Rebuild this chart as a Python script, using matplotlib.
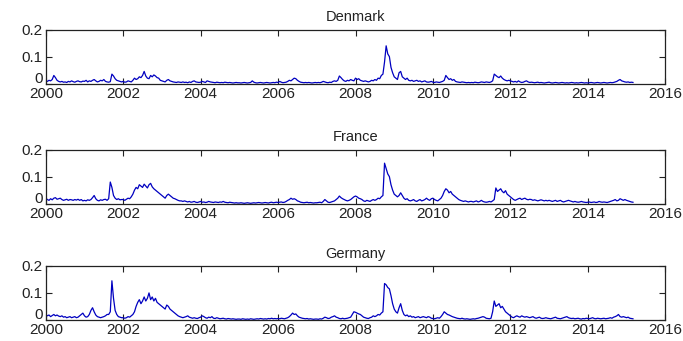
import numpy as np
import matplotlib
matplotlib.use("Agg")
import matplotlib.pyplot as plt
from matplotlib.transforms import ScaledTranslation

plt.rcParams['font.family'] = ['Liberation Sans', 'DejaVu Sans']

# semi-monthly observations, Jan 2000 .. early 2015
denmark = [
    # 2000
    0.010, 0.008, 0.012, 0.010, 0.015, 0.030, 0.022, 0.012, 0.008, 0.006, 0.008, 0.005,
    0.006, 0.004, 0.008, 0.006, 0.010, 0.007, 0.005, 0.008, 0.010, 0.007, 0.006, 0.009,
    # 2001
    0.008, 0.012, 0.006, 0.010, 0.008, 0.012, 0.015, 0.010, 0.006, 0.008, 0.012, 0.010,
    0.015, 0.008, 0.006, 0.005, 0.007, 0.035, 0.028, 0.018, 0.012, 0.010, 0.008, 0.006,
    # 2002
    0.008, 0.005, 0.006, 0.010, 0.008, 0.006, 0.012, 0.020, 0.015, 0.018, 0.025, 0.022,
    0.030, 0.045, 0.028, 0.020, 0.018, 0.030, 0.025, 0.032, 0.028, 0.022, 0.020, 0.012,
    # 2003
    0.010, 0.008, 0.006, 0.012, 0.015, 0.010, 0.008, 0.006, 0.005, 0.004, 0.006, 0.005,
    0.004, 0.006, 0.004, 0.005, 0.003, 0.006, 0.004, 0.008, 0.010, 0.006, 0.005, 0.004,
    # 2004
    0.005, 0.008, 0.006, 0.004, 0.010, 0.008, 0.006, 0.005, 0.004, 0.003, 0.005, 0.004,
    0.003, 0.004, 0.003, 0.005, 0.004, 0.003, 0.004, 0.003, 0.002, 0.003, 0.004, 0.003,
    # 2005
    0.003, 0.002, 0.003, 0.004, 0.003, 0.002, 0.003, 0.004, 0.010, 0.005, 0.003, 0.002,
    0.003, 0.004, 0.003, 0.002, 0.003, 0.004, 0.003, 0.002, 0.003, 0.004, 0.003, 0.005,
    # 2006
    0.004, 0.008, 0.005, 0.003, 0.004, 0.005, 0.008, 0.012, 0.010, 0.015, 0.020, 0.018,
    0.012, 0.008, 0.005, 0.004, 0.003, 0.004, 0.003, 0.004, 0.003, 0.002, 0.003, 0.004,
    # 2007
    0.003, 0.004, 0.003, 0.005, 0.008, 0.006, 0.004, 0.003, 0.005, 0.004, 0.008, 0.010,
    0.008, 0.012, 0.028, 0.022, 0.015, 0.010, 0.008, 0.012, 0.010, 0.015, 0.012, 0.010,
    # 2008
    0.020, 0.015, 0.018, 0.012, 0.010, 0.008, 0.010, 0.008, 0.006, 0.008, 0.012, 0.010,
    0.015, 0.012, 0.020, 0.018, 0.030, 0.035, 0.080, 0.140, 0.110, 0.100, 0.060, 0.040,
    # 2009
    0.025, 0.020, 0.015, 0.040, 0.045, 0.025, 0.020, 0.015, 0.020, 0.012, 0.010, 0.012,
    0.008, 0.010, 0.012, 0.008, 0.010, 0.006, 0.008, 0.010, 0.006, 0.005, 0.006, 0.008,
    # 2010
    0.005, 0.004, 0.006, 0.005, 0.004, 0.006, 0.008, 0.012, 0.030, 0.022, 0.015, 0.018,
    0.012, 0.015, 0.008, 0.006, 0.005, 0.004, 0.006, 0.005, 0.004, 0.003, 0.004, 0.003,
    # 2011
    0.004, 0.003, 0.005, 0.004, 0.003, 0.004, 0.006, 0.005, 0.004, 0.006, 0.005, 0.004,
    0.006, 0.010, 0.035, 0.030, 0.025, 0.022, 0.028, 0.020, 0.015, 0.012, 0.010, 0.012,
    # 2012
    0.010, 0.008, 0.006, 0.008, 0.005, 0.010, 0.006, 0.004, 0.005, 0.008, 0.010, 0.006,
    0.004, 0.005, 0.004, 0.003, 0.004, 0.005, 0.003, 0.004, 0.003, 0.002, 0.003, 0.004,
    # 2013
    0.005, 0.003, 0.002, 0.003, 0.004, 0.003, 0.002, 0.003, 0.004, 0.003, 0.002, 0.003,
    0.002, 0.003, 0.004, 0.003, 0.002, 0.003, 0.002, 0.003, 0.004, 0.003, 0.002, 0.003,
    # 2014
    0.002, 0.003, 0.004, 0.003, 0.002, 0.003, 0.004, 0.003, 0.002, 0.003, 0.004, 0.003,
    0.002, 0.003, 0.004, 0.003, 0.004, 0.006, 0.008, 0.012, 0.015, 0.010, 0.008, 0.006,
    # 2015
    0.005, 0.006, 0.004, 0.005, 0.004,
]

france = [
    # 2000
    0.020, 0.015, 0.012, 0.018, 0.014, 0.020, 0.022, 0.016, 0.018, 0.020, 0.015, 0.012,
    0.014, 0.016, 0.012, 0.015, 0.014, 0.012, 0.015, 0.013, 0.016, 0.012, 0.015, 0.010,
    # 2001
    0.012, 0.010, 0.014, 0.012, 0.015, 0.022, 0.030, 0.018, 0.012, 0.010, 0.014, 0.012,
    0.015, 0.016, 0.012, 0.018, 0.080, 0.060, 0.030, 0.020, 0.015, 0.018, 0.014, 0.015,
    # 2002
    0.015, 0.012, 0.016, 0.020, 0.018, 0.025, 0.035, 0.050, 0.060, 0.055, 0.070, 0.065,
    0.060, 0.072, 0.065, 0.058, 0.070, 0.075, 0.062, 0.055, 0.050, 0.045, 0.040, 0.035,
    # 2003
    0.030, 0.025, 0.020, 0.030, 0.035, 0.030, 0.025, 0.020, 0.018, 0.015, 0.012, 0.010,
    0.010, 0.008, 0.010, 0.008, 0.006, 0.008, 0.005, 0.006, 0.008, 0.005, 0.004, 0.006,
    # 2004
    0.008, 0.005, 0.006, 0.004, 0.005, 0.008, 0.006, 0.005, 0.004, 0.006, 0.005, 0.004,
    0.006, 0.005, 0.008, 0.005, 0.004, 0.003, 0.005, 0.004, 0.003, 0.002, 0.003, 0.002,
    # 2005
    0.002, 0.003, 0.002, 0.001, 0.002, 0.003, 0.002, 0.001, 0.002, 0.003, 0.002, 0.003,
    0.004, 0.003, 0.002, 0.003, 0.004, 0.003, 0.002, 0.004, 0.005, 0.003, 0.004, 0.005,
    # 2006
    0.004, 0.005, 0.006, 0.004, 0.005, 0.008, 0.012, 0.015, 0.020, 0.016, 0.018, 0.015,
    0.010, 0.008, 0.005, 0.004, 0.003, 0.004, 0.005, 0.003, 0.004, 0.003, 0.002, 0.003,
    # 2007
    0.003, 0.004, 0.005, 0.003, 0.008, 0.015, 0.010, 0.005, 0.004, 0.006, 0.008, 0.010,
    0.015, 0.020, 0.028, 0.022, 0.018, 0.015, 0.012, 0.010, 0.012, 0.015, 0.020, 0.025,
    # 2008
    0.028, 0.025, 0.020, 0.018, 0.015, 0.010, 0.008, 0.012, 0.010, 0.008, 0.012, 0.015,
    0.012, 0.015, 0.020, 0.018, 0.025, 0.030, 0.150, 0.130, 0.110, 0.100, 0.070, 0.050,
    # 2009
    0.035, 0.030, 0.025, 0.030, 0.040, 0.030, 0.020, 0.015, 0.018, 0.012, 0.010, 0.012,
    0.015, 0.010, 0.008, 0.012, 0.015, 0.010, 0.012, 0.015, 0.020, 0.015, 0.012, 0.018,
    # 2010
    0.020, 0.015, 0.012, 0.010, 0.015, 0.020, 0.030, 0.045, 0.055, 0.050, 0.040, 0.045,
    0.035, 0.030, 0.025, 0.020, 0.015, 0.012, 0.010, 0.008, 0.010, 0.008, 0.006, 0.008,
    # 2011
    0.008, 0.006, 0.008, 0.010, 0.006, 0.008, 0.012, 0.008, 0.006, 0.005, 0.006, 0.008,
    0.006, 0.010, 0.015, 0.058, 0.045, 0.050, 0.055, 0.045, 0.040, 0.048, 0.035, 0.030,
    # 2012
    0.025, 0.020, 0.015, 0.012, 0.015, 0.018, 0.020, 0.015, 0.018, 0.020, 0.016, 0.014,
    0.016, 0.015, 0.012, 0.014, 0.012, 0.010, 0.012, 0.014, 0.012, 0.010, 0.012, 0.010,
    # 2013
    0.012, 0.010, 0.008, 0.010, 0.012, 0.008, 0.010, 0.012, 0.008, 0.006, 0.008, 0.010,
    0.012, 0.010, 0.008, 0.006, 0.008, 0.006, 0.005, 0.006, 0.008, 0.006, 0.005, 0.004,
    # 2014
    0.005, 0.006, 0.004, 0.005, 0.006, 0.004, 0.005, 0.008, 0.006, 0.005, 0.006, 0.005,
    0.004, 0.006, 0.008, 0.010, 0.012, 0.015, 0.010, 0.012, 0.018, 0.015, 0.012, 0.015,
    # 2015
    0.012, 0.010, 0.008, 0.006, 0.005,
]

germany = [
    # 2000
    0.020, 0.015, 0.018, 0.012, 0.016, 0.020, 0.015, 0.018, 0.014, 0.012, 0.015, 0.010,
    0.012, 0.008, 0.010, 0.012, 0.008, 0.010, 0.012, 0.008, 0.010, 0.015, 0.020, 0.025,
    # 2001
    0.015, 0.010, 0.012, 0.020, 0.035, 0.045, 0.030, 0.018, 0.012, 0.010, 0.008, 0.010,
    0.012, 0.015, 0.020, 0.020, 0.030, 0.145, 0.080, 0.035, 0.020, 0.012, 0.010, 0.008,
    # 2002
    0.008, 0.006, 0.008, 0.012, 0.010, 0.015, 0.020, 0.030, 0.050, 0.065, 0.075, 0.060,
    0.070, 0.085, 0.070, 0.080, 0.100, 0.075, 0.085, 0.070, 0.080, 0.065, 0.060, 0.055,
    # 2003
    0.050, 0.045, 0.040, 0.055, 0.050, 0.040, 0.035, 0.030, 0.025, 0.020, 0.015, 0.012,
    0.010, 0.008, 0.010, 0.012, 0.015, 0.010, 0.008, 0.006, 0.008, 0.006, 0.005, 0.008,
    # 2004
    0.010, 0.015, 0.012, 0.008, 0.006, 0.010, 0.008, 0.012, 0.006, 0.005, 0.008, 0.006,
    0.004, 0.005, 0.006, 0.004, 0.003, 0.005, 0.004, 0.003, 0.004, 0.003, 0.002, 0.003,
    # 2005
    0.003, 0.002, 0.004, 0.003, 0.002, 0.003, 0.002, 0.004, 0.003, 0.002, 0.003, 0.004,
    0.003, 0.005, 0.004, 0.003, 0.004, 0.003, 0.005, 0.004, 0.006, 0.004, 0.005, 0.004,
    # 2006
    0.005, 0.004, 0.006, 0.005, 0.004, 0.006, 0.008, 0.012, 0.018, 0.025, 0.020, 0.022,
    0.015, 0.010, 0.008, 0.006, 0.005, 0.004, 0.005, 0.003, 0.004, 0.003, 0.002, 0.003,
    # 2007
    0.003, 0.002, 0.004, 0.003, 0.006, 0.010, 0.008, 0.005, 0.006, 0.010, 0.012, 0.015,
    0.010, 0.008, 0.005, 0.004, 0.006, 0.004, 0.005, 0.006, 0.008, 0.010, 0.020, 0.030,
    # 2008
    0.028, 0.025, 0.022, 0.020, 0.015, 0.010, 0.008, 0.006, 0.005, 0.008, 0.010, 0.015,
    0.012, 0.015, 0.020, 0.018, 0.025, 0.030, 0.135, 0.130, 0.120, 0.115, 0.090, 0.060,
    # 2009
    0.040, 0.030, 0.025, 0.045, 0.060, 0.035, 0.020, 0.015, 0.018, 0.012, 0.015, 0.010,
    0.012, 0.008, 0.010, 0.012, 0.008, 0.010, 0.012, 0.010, 0.008, 0.012, 0.010, 0.006,
    # 2010
    0.005, 0.004, 0.006, 0.008, 0.006, 0.012, 0.020, 0.030, 0.025, 0.020, 0.018, 0.015,
    0.012, 0.010, 0.008, 0.006, 0.005, 0.004, 0.006, 0.004, 0.003, 0.004, 0.003, 0.002,
    # 2011
    0.003, 0.004, 0.003, 0.005, 0.006, 0.008, 0.010, 0.012, 0.010, 0.006, 0.005, 0.004,
    0.006, 0.030, 0.070, 0.050, 0.055, 0.060, 0.045, 0.050, 0.040, 0.030, 0.025, 0.020,
    # 2012
    0.015, 0.010, 0.008, 0.012, 0.015, 0.012, 0.010, 0.015, 0.012, 0.010, 0.012, 0.010,
    0.008, 0.010, 0.012, 0.008, 0.006, 0.008, 0.010, 0.006, 0.005, 0.006, 0.008, 0.006,
    # 2013
    0.005, 0.004, 0.006, 0.008, 0.010, 0.006, 0.005, 0.004, 0.006, 0.008, 0.010, 0.012,
    0.008, 0.006, 0.005, 0.006, 0.004, 0.005, 0.006, 0.004, 0.003, 0.005, 0.004, 0.006,
    # 2014
    0.005, 0.004, 0.006, 0.008, 0.005, 0.004, 0.006, 0.005, 0.004, 0.005, 0.006, 0.004,
    0.005, 0.006, 0.008, 0.006, 0.010, 0.012, 0.015, 0.020, 0.012, 0.010, 0.012, 0.010,
    # 2015
    0.008, 0.010, 0.006, 0.005, 0.004,
]

countries = ['Denmark', 'France', 'Germany']
series = [denmark, france, germany]
xticks = list(range(2000, 2017, 2))
yticks = [0, 0.1, 0.2]
ytick_labels = ['0', '0.1', '0.2']

fig = plt.figure(figsize=(6.83, 3.41), dpi=100)
left, width, height = 0.067, 0.907, 0.158
bottoms = [0.755, 0.403, 0.062]

for name, vals, b in zip(countries, series, bottoms):
    ax = fig.add_axes([left, b, width, height])
    t = 2000 + np.arange(len(vals)) / 24.0
    ax.plot(t, vals, color='#0000c0', lw=0.9)
    ax.set_xlim(2000, 2016)
    ax.set_ylim(0, 0.2)
    ax.set_xticks(xticks)
    ax.set_yticks(yticks)
    ax.set_yticklabels(ytick_labels)
    ax.tick_params(direction='in', top=True, right=True, length=4,
                   width=0.8, labelsize=11, colors='#222222')
    ax.tick_params(axis='x', pad=2.5)
    ax.tick_params(axis='y', pad=2)
    # lift the zero label a little so it sits on top of the year labels
    zero = ax.get_yticklabels()[0]
    zero.set_transform(zero.get_transform() +
                       ScaledTranslation(0, 4.5 / 72, fig.dpi_scale_trans))
    for s in ax.spines.values():
        s.set_linewidth(0.9)
        s.set_color('#222222')
    ax.set_title(name, fontsize=10.5, pad=6, color='#222222')

fig.savefig('out.png', dpi=100)
